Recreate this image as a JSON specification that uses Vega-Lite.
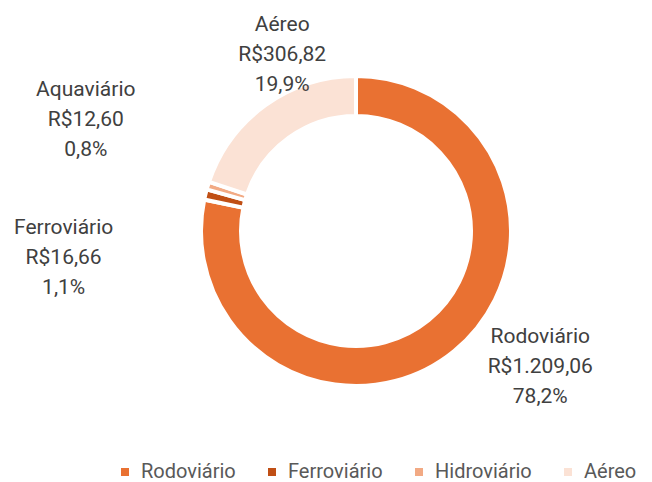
{
  "$schema": "https://vega.github.io/schema/vega-lite/v6.json",
  "width": 592,
  "height": 462,
  "autosize": {"type": "none"},
  "padding": {"left": 60, "top": 0, "right": 0, "bottom": 20},
  "background": "white",
  "config": {"view": {"stroke": null}, "text": {"font": "Roboto"}},
  "data": {
    "values": [
      {"ordem": 1, "categoria": "Rodoviário", "valor": 1209.06, "rotulo": "Rodoviário\nR$1.209,06\n78,2%"},
      {"ordem": 2, "categoria": "Ferroviário", "valor": 16.66, "rotulo": "Ferroviário\nR$16,66\n1,1%"},
      {"ordem": 3, "categoria": "Hidroviário", "valor": 12.60, "rotulo": "Aquaviário\nR$12,60\n0,8%"},
      {"ordem": 4, "categoria": "Aéreo", "valor": 306.82, "rotulo": "Aéreo\nR$306,82\n19,9%"}
    ]
  },
  "encoding": {
    "theta": {"field": "valor", "type": "quantitative", "stack": true},
    "order": {"field": "ordem", "type": "quantitative"}
  },
  "layer": [
    {
      "mark": {"type": "arc", "radius": 155, "radius2": 115, "stroke": "white", "strokeWidth": 4},
      "encoding": {
        "color": {
          "field": "categoria",
          "type": "nominal",
          "scale": {
            "domain": ["Rodoviário", "Ferroviário", "Hidroviário", "Aéreo"],
            "range": ["#E97132", "#C04F15", "#F2AA84", "#FBE2D5"]
          },
          "legend": {
            "title": null,
            "orient": "none",
            "direction": "horizontal",
            "legendX": 55,
            "legendY": 462,
            "padding": 0,
            "symbolType": "square",
            "symbolSize": 64,
            "symbolStrokeWidth": 0,
            "labelFont": "Roboto",
            "labelFontSize": 20,
            "labelColor": "#595959",
            "labelOffset": 6,
            "columnPadding": 26
          }
        }
      }
    },
    {
      "mark": {"type": "text", "radius": 200, "dx": 58, "dy": -49, "align": "center", "baseline": "middle", "lineBreak": "\n", "lineHeight": 30, "fontSize": 21, "fill": "#404040"},
      "encoding": {
        "text": {"condition": {"test": "datum.categoria === 'Rodoviário'", "field": "rotulo"}, "value": ""}
      }
    },
    {
      "mark": {"type": "text", "radius": 200, "dx": -98, "dy": 44, "align": "center", "baseline": "middle", "lineBreak": "\n", "lineHeight": 30, "fontSize": 21, "fill": "#404040"},
      "encoding": {
        "text": {"condition": {"test": "datum.categoria === 'Ferroviário'", "field": "rotulo"}, "value": ""}
      }
    },
    {
      "mark": {"type": "text", "radius": 200, "dx": -79, "dy": -82, "align": "center", "baseline": "middle", "lineBreak": "\n", "lineHeight": 30, "fontSize": 21, "fill": "#404040"},
      "encoding": {
        "text": {"condition": {"test": "datum.categoria === 'Hidroviário'", "field": "rotulo"}, "value": ""}
      }
    },
    {
      "mark": {"type": "text", "radius": 200, "dx": 43, "dy": -44, "align": "center", "baseline": "middle", "lineBreak": "\n", "lineHeight": 30, "fontSize": 21, "fill": "#404040"},
      "encoding": {
        "text": {"condition": {"test": "datum.categoria === 'Aéreo'", "field": "rotulo"}, "value": ""}
      }
    }
  ]
}
